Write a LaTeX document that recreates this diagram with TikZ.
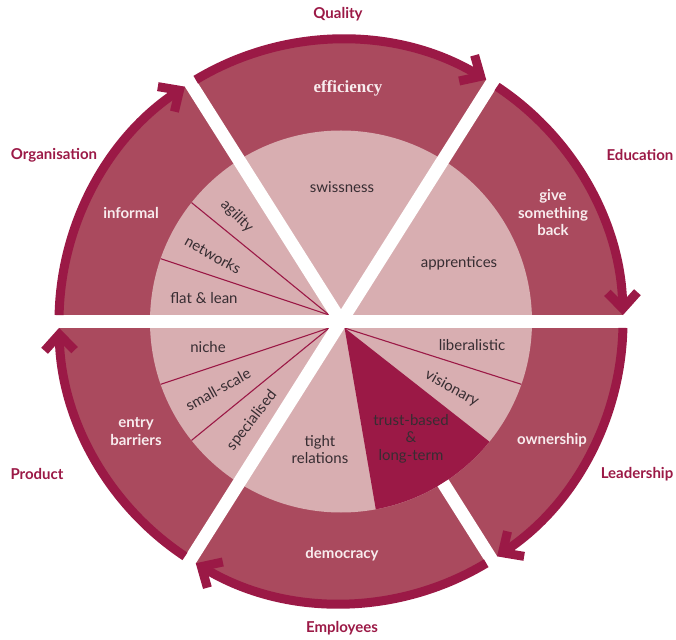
\documentclass[tikz,border=0pt]{standalone}
\usepackage{fontspec}
\setmainfont{Lato}
\newfontfamily\serifbold{Liberation Serif}
\usetikzlibrary{arrows.meta}
\definecolor{ringrose}{RGB}{170,74,94}
\definecolor{piepink}{RGB}{216,174,177}
\definecolor{crimson}{RGB}{155,25,70}
\definecolor{inktext}{RGB}{55,45,50}
\definecolor{ringtext}{RGB}{248,236,238}
\begin{document}
\begin{tikzpicture}[x=1pt,y=1pt,
		band/.style={white,line width=13pt},
		divider/.style={crimson,line width=1.1pt},
		cyclearrow/.style={crimson,line width=9pt,-{Straight Barb[length=16pt,width=30pt]}},
		theme/.style={text=crimson,font=\fontsize{15}{17}\selectfont\bfseries},
		outer/.style={text=ringtext,font=\fontsize{15}{17.5}\selectfont\bfseries,align=center},
		inner/.style={text=inktext,font=\fontsize{15}{17.5}\selectfont,align=center}]
			\useasboundingbox (-341,-317.5) rectangle (335,321.5);
			\coordinate (C) at (0,0);
			\coordinate (ul) at (151.15:13.5);
			\coordinate (ll) at (208.85:13.5);
			\coordinate (lr) at (298.85:7.4);
			\fill[ringrose] (C) circle (282);
			\fill[piepink] (C) circle (191);
			\fill[crimson] (lr) -- (321:191) arc[start angle=321,end angle=280.5,radius=191] -- cycle;
			\draw[divider] (ul) -- (141.5:191);
			\draw[divider] (ul) -- (160.8:191);
			\draw[divider] (ll) -- (199.2:191);
			\draw[divider] (ll) -- (218.5:191);
			\draw[divider] (lr) -- (340.8:191);
			\draw[band] (180:300) -- (0:300);
			\draw[band] (57.7:300) -- (237.7:300);
			\draw[band] (122.3:300) -- (C);
			\draw[band] (302.3:191) -- (302.3:300);
			\draw[cyclearrow] (121:282) arc[start angle=121,end angle=59,radius=282];
			\draw[cyclearrow] (56.4:282) arc[start angle=56.4,end angle=1.3,radius=282];
			\draw[cyclearrow] (-1.3:282) arc[start angle=-1.3,end angle=-56.4,radius=282];
			\draw[cyclearrow] (-59:282) arc[start angle=-59,end angle=-121,radius=282];
			\draw[cyclearrow] (-123.6:282) arc[start angle=-123.6,end angle=-178.7,radius=282];
			\draw[cyclearrow] (178.7:282) arc[start angle=178.7,end angle=123.6,radius=282];
			\node[theme] (quality) at (-3,307.5) {Quality};
			\node[theme] (education) at (299,166.5) {Education};
			\node[theme] (leadership) at (296,-152.5) {Leadership};
			\node[theme] (employees) at (1,-306.5) {Employees};
			\node[theme] (product) at (-304,-152.5) {Product};
			\node[theme] (organisation) at (-287,166.5) {Organisation};
			\node[outer,font=\serifbold\fontsize{17}{20}\selectfont\bfseries] (efficiency) at (7,233.5) {efficiency};
			\node[outer] (giveback) at (212,108.5) {give\\something\\back};
			\node[outer] (ownership) at (211,-118.5) {ownership};
			\node[outer] (democracy) at (1,-232.5) {democracy};
			\node[outer] (barriers) at (-205,-110) {entry\\barriers};
			\node[outer] (informal) at (-210,108.5) {informal};
			\node[inner] (swissness) at (1,134.5) {swissness};
			\node[inner] (apprentices) at (118,58.5) {apprentices};
			\node[inner,rotate=-45] (agility) at (-104,105) {agility};
			\node[inner,rotate=-29] (networks) at (-128,66.5) {networks};
			\node[inner] (flatlean) at (-137,23.5) {flat \& lean};
			\node[inner] (niche) at (-133,-26) {niche};
			\node[inner,rotate=29] (smallscale) at (-123,-68) {small-scale};
			\node[inner,rotate=52] (specialised) at (-89,-99) {specialised};
			\node[inner] (tight) at (-21,-128) {tight\\relations};
			\node[inner] (trust) at (70,-117) {trust-based\\\&\\long-term};
			\node[inner,rotate=-29] (visionary) at (111,-67) {visionary};
			\node[inner] (liberal) at (131,-23.5) {liberalistic};
		\end{tikzpicture}
\end{document}
